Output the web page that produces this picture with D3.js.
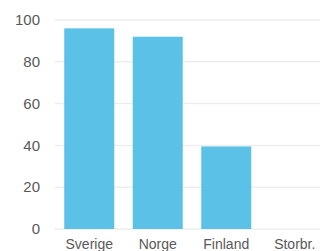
<!DOCTYPE html>
<html>
<head>
<meta charset="utf-8">
<script src="https://cdn.jsdelivr.net/npm/d3@7"></script>
<style>
  body { margin: 0; background: #fff; }
  svg { display: block; font-family: "Liberation Sans", Arial, sans-serif; }
</style>
</head>
<body>
<div id="chart-area"></div>
<script>
// Data
var countries = ["Sverige", "Norge", "Finland", "Storbr."];
var values = [96, 92, 39.5, 0];
var yTicks = [0, 20, 40, 60, 80, 100];

var margin = { left: 55, right: -9, top: 20, bottom: 22 };
var width = 320 - margin.left - margin.right,
    height = 251 - margin.top - margin.bottom;

var svg = d3.select("#chart-area")
    .append("svg")
        .attr("width", 320)
        .attr("height", 251);

var g = svg.append("g")
    .attr("transform", "translate(" + margin.left + ", " + margin.top + ")");

// X Scale
var x = d3.scaleBand()
    .domain(countries)
    .range([0, width])
    .paddingInner(0.27)
    .paddingOuter(0.135);

// Y Scale
var y = d3.scaleLinear()
    .domain([0, 100])
    .range([height, 0]);

// Gridlines
g.selectAll("line.grid")
    .data(yTicks)
    .enter()
    .append("line")
        .attr("class", "grid")
        .attr("x1", 0)
        .attr("x2", width)
        .attr("y1", function(d){ return y(d); })
        .attr("y2", function(d){ return y(d); })
        .attr("stroke", "#eeeeee")
        .attr("stroke-width", 1.5);

// Y tick labels
g.selectAll("text.ytick")
    .data(yTicks)
    .enter()
    .append("text")
        .attr("class", "ytick")
        .attr("x", -15)
        .attr("y", function(d){ return y(d); })
        .attr("dy", "0.35em")
        .attr("text-anchor", "end")
        .attr("font-size", "15px")
        .attr("fill", "#595959")
        .text(function(d){ return d; });

// Bars
g.selectAll("rect")
    .data(values)
    .enter()
    .append("rect")
        .attr("x", function(d, i){ return x(countries[i]); })
        .attr("width", x.bandwidth())
        .attr("y", function(d){ return y(d); })
        .attr("height", function(d){ return height - y(d); })
        .attr("fill", "#5bc1e6");

// X labels
g.selectAll("text.xlabel")
    .data(countries)
    .enter()
    .append("text")
        .attr("class", "xlabel")
        .attr("x", function(d){ return x(d) + x.bandwidth() / 2; })
        .attr("y", height + 20)
        .attr("text-anchor", "middle")
        .attr("font-size", "14px")
        .attr("fill", "#595959")
        .text(function(d){ return d; });
</script>
</body>
</html>
